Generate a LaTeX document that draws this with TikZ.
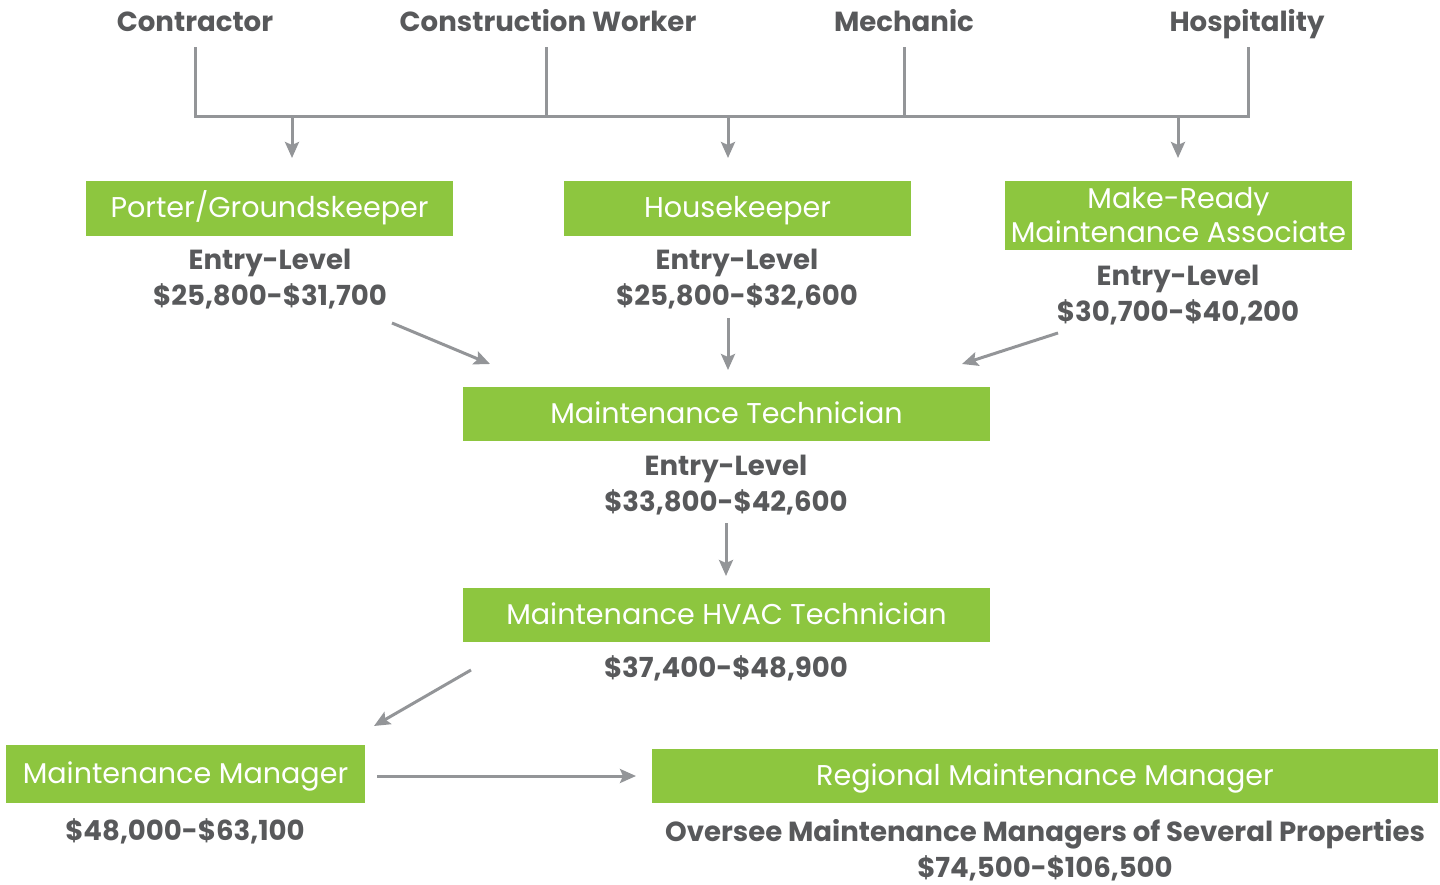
\documentclass[tikz,border=0pt]{standalone}
\usepackage{fontspec}
\setmainfont{Poppins}
\usetikzlibrary{arrows.meta}
\definecolor{boxgreen}{HTML}{8DC63F}
\definecolor{textgray}{HTML}{58595B}
\definecolor{linegray}{HTML}{939598}
\begin{document}
\begin{tikzpicture}[x=0.5pt, y=-0.5pt,
  greenbox/.style={fill=boxgreen, text=white, inner sep=0pt, align=center, font=\fontsize{14.3}{17}\selectfont},
  oneline/.style={text height=0.9em, text depth=0em},
  source/.style={text=textgray, text height=0.9em, text depth=0em, font=\bfseries\fontsize{13.8}{15}\selectfont},
  pay/.style={text=textgray, align=center, inner sep=1pt, font=\bfseries\fontsize{13.8}{18}\selectfont},
  line/.style={draw=linegray, line width=1.5pt},
  arrow/.style={line, -{Stealth[length=8pt, width=7pt, inset=1.5pt]}}]
\useasboundingbox (0,0) rectangle (1440,884);
% where people come from
\node[source] (contractor) at (195,22) {Contractor};
\node[source] (construction) at (548,22) {Construction Worker};
\node[source] (mechanic) at (904,22) {Mechanic};
\node[source] (hospitality) at (1247,22) {Hospitality};
\coordinate (b1) at (195,116);
\coordinate (b2) at (546,116);
\coordinate (b3) at (904,116);
\coordinate (b4) at (1248,116);
\coordinate (d1) at (292,116);
\coordinate (d2) at (728,116);
\coordinate (d3) at (1178,116);
\draw[line] (contractor.south |- 0,47) -- (b1) -- (b4) -- (b4 |- 0,47);
\draw[line] (b2 |- 0,47) -- (b2);
\draw[line] (b3 |- 0,47) -- (b3);
% entry-level jobs
\node[greenbox, oneline, minimum width=183.5pt, minimum height=27.5pt] (porter) at (269.5,208.5) {Porter/Groundskeeper};
\node[greenbox, oneline, minimum width=173.5pt, minimum height=27.5pt] (housekeeper) at (737.5,208.5) {Housekeeper};
\node[greenbox, minimum width=173.5pt, minimum height=34.5pt] (makeready) at (1178.5,215.5) {Make-Ready\\Maintenance Associate};
\node[pay] (porterpay) at (270,279) {Entry-Level\\\$25,800-\$31,700};
\node[pay] (housepay) at (737,279) {Entry-Level\\\$25,800-\$32,600};
\node[pay] (makepay) at (1178,295) {Entry-Level\\\$30,700-\$40,200};
\draw[arrow] (d1) -- (d1 |- 0,158);
\draw[arrow] (d2) -- (d2 |- 0,158);
\draw[arrow] (d3) -- (d3 |- 0,158);
% technicians
\node[greenbox, oneline, minimum width=263.5pt, minimum height=27pt] (tech) at (726.5,414) {Maintenance Technician};
\node[pay] (techpay) at (726,485) {Entry-Level\\\$33,800-\$42,600};
\node[greenbox, oneline, minimum width=263.5pt, minimum height=27pt] (hvac) at (726.5,615) {Maintenance HVAC Technician};
\node[pay] (hvacpay) at (726,668) {\$37,400-\$48,900};
\coordinate (p1) at (392,323);
\coordinate (p2) at (490,364);
\coordinate (h1) at (728,318);
\coordinate (h2) at (728,370);
\coordinate (m1) at (1058,333);
\coordinate (m2) at (962,364);
\coordinate (t1) at (726,523);
\coordinate (t2) at (726,576);
\draw[arrow] (p1) -- (p2);
\draw[arrow] (h1) -- (h2);
\draw[arrow] (m1) -- (m2);
\draw[arrow] (t1) -- (t2);
% managers
\node[greenbox, oneline, minimum width=179.5pt, minimum height=29pt] (manager) at (185.5,774) {Maintenance Manager};
\node[pay] (managerpay) at (185,831) {\$48,000-\$63,100};
\node[greenbox, oneline, minimum width=393pt, minimum height=27pt] (regional) at (1045,776) {Regional Maintenance Manager};
\node[pay] (regionalpay) at (1045,850) {Oversee Maintenance Managers of Several Properties\\\$74,500-\$106,500};
\coordinate (v1) at (471,670);
\coordinate (v2) at (374,726);
\coordinate (r1) at (377,776);
\coordinate (r2) at (636,776);
\draw[arrow] (v1) -- (v2);
\draw[arrow] (r1) -- (r2);
\end{tikzpicture}
\end{document}
